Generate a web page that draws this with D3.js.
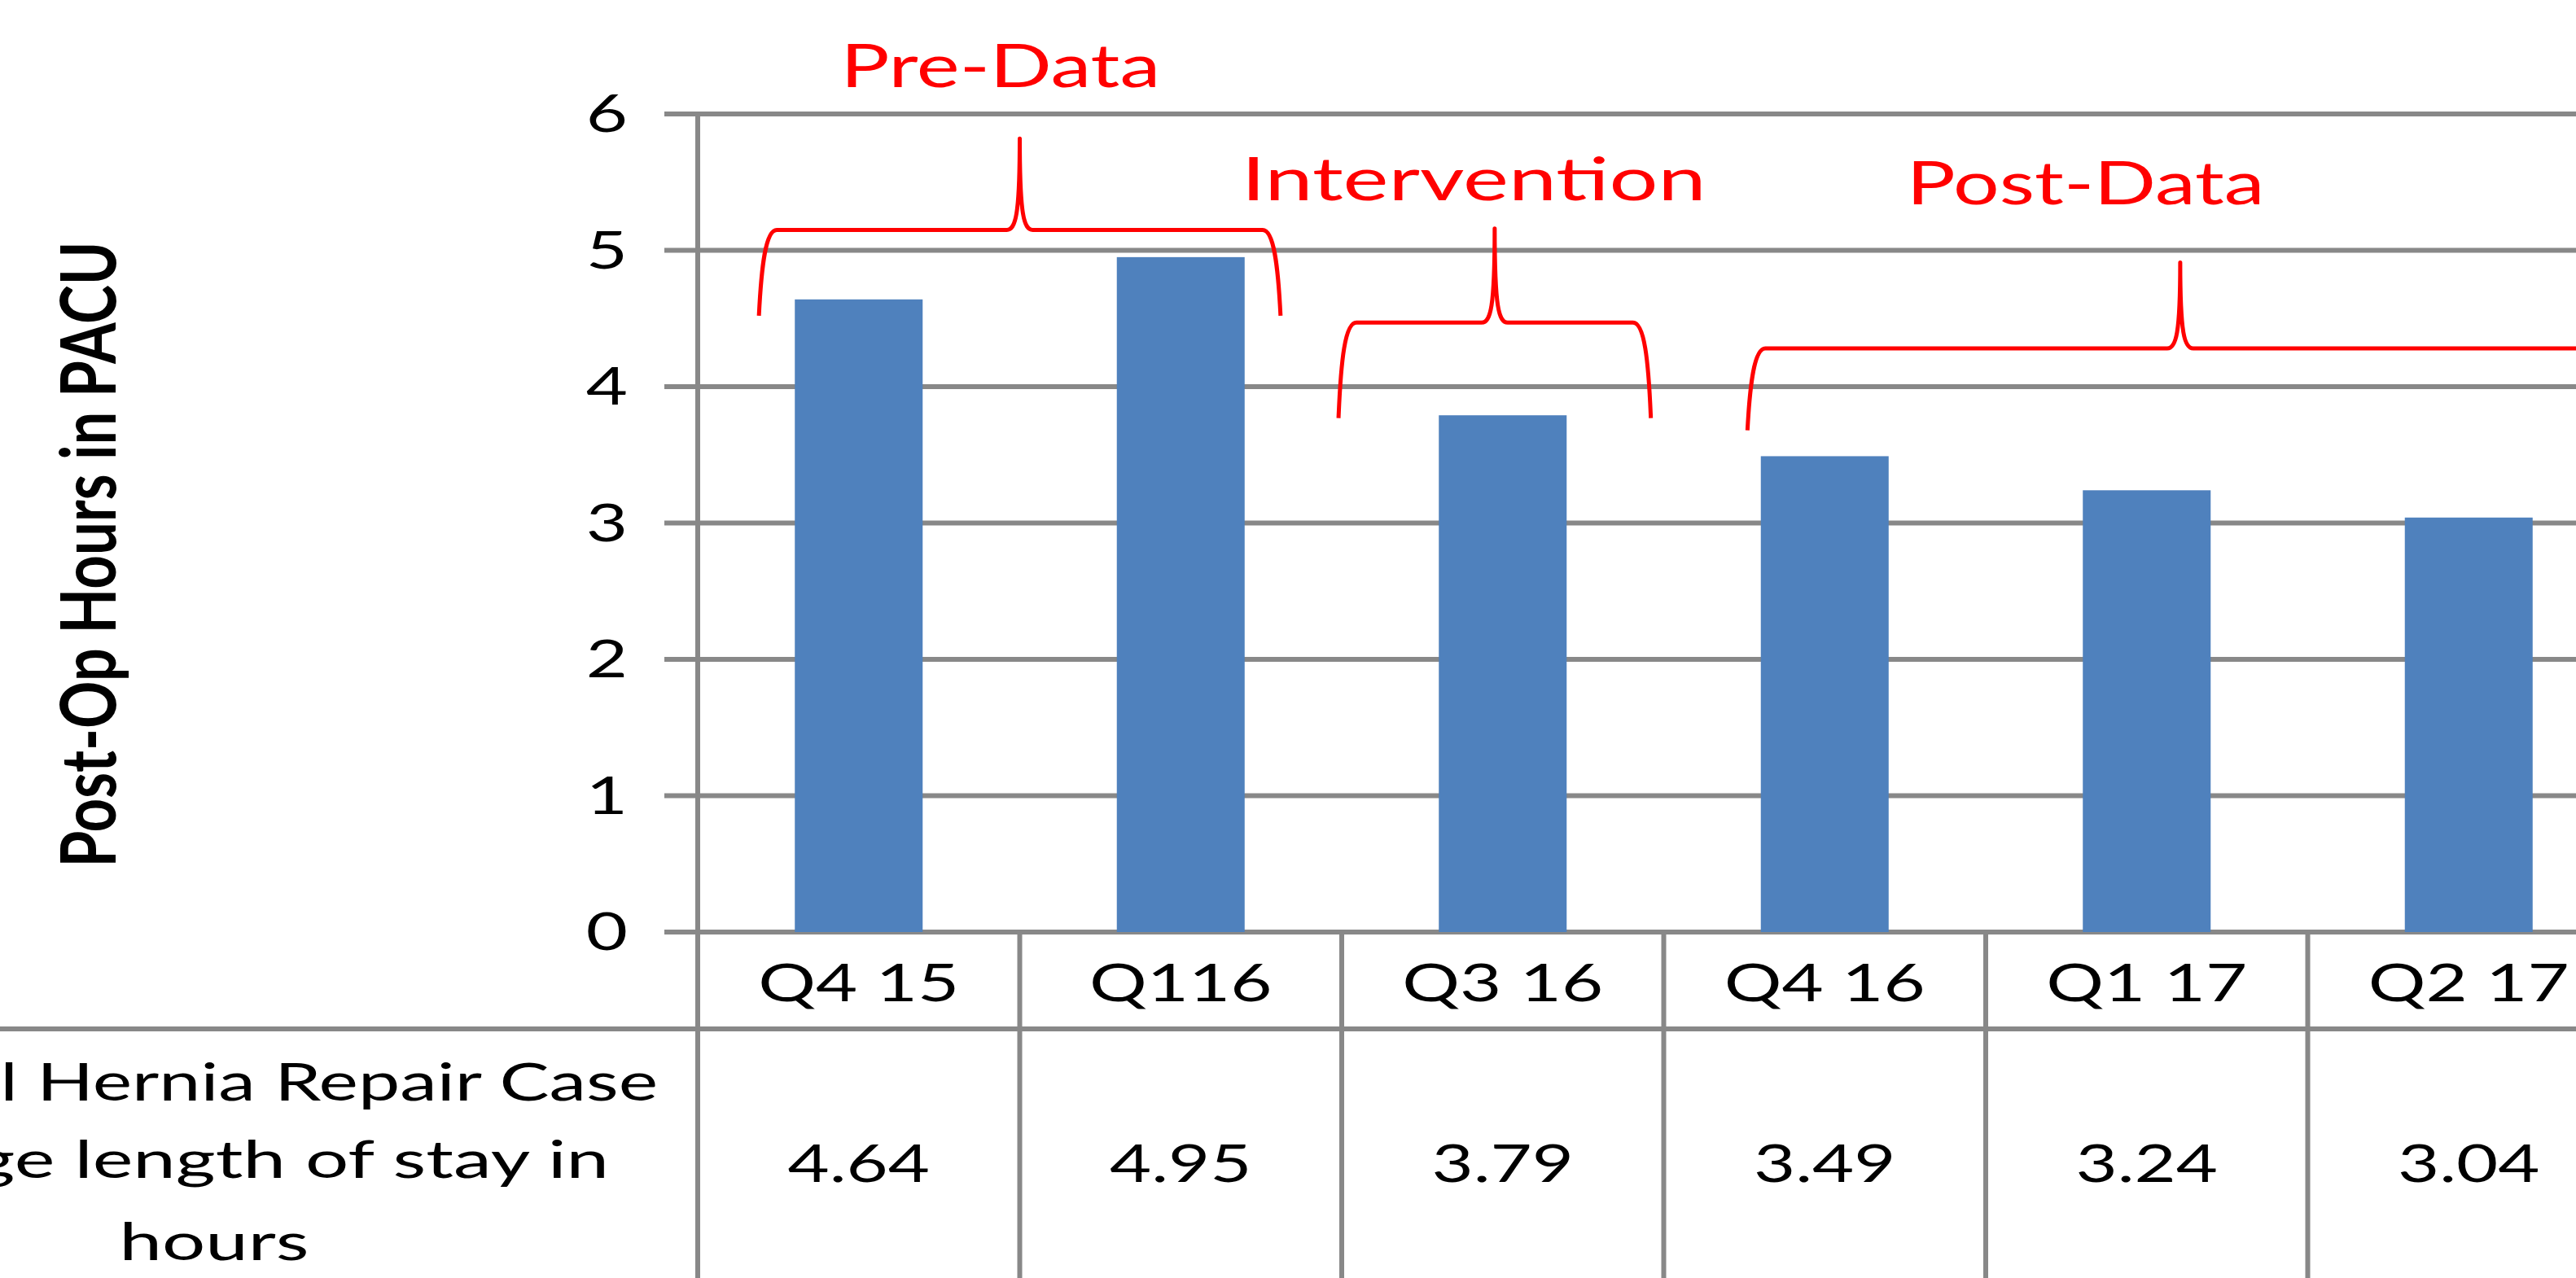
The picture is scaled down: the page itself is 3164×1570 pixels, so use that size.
<!DOCTYPE html>
<html>
<head>
<meta charset="utf-8">
<script src="https://cdn.jsdelivr.net/npm/d3@7"></script>
<style>
  html, body { margin: 0; padding: 0; background: #ffffff; }
  svg { display: block; }
  .grid line { stroke: #888888; stroke-width: 6; }
  .lbl { font-family: Lato, "Open Sans", sans-serif; fill: #000; }
  .phase { font-family: Lato, "Open Sans", sans-serif; fill: #ff0000; }
  .brace { fill: none; stroke: #ff0000; stroke-width: 5; stroke-linejoin: round; }
</style>
</head>
<body>
<div id="chart"></div>
<script>
/* ===== DATA ===== */
const categories = ["Q4 15", "Q116", "Q3 16", "Q4 16", "Q1 17", "Q2 17"];
const losHours = [4.64, 4.95, 3.79, 3.49, 3.24, 3.04];
const yTicks = [0, 1, 2, 3, 4, 5, 6];
const seriesName = ["Inguinal Hernia Repair Case", "Average length of stay in", "hours"];
const yTitle = "Post-Op Hours in PACU";

// phase brackets, in category units (x) and hours (y)
const phaseNames = ["Pre-Data", "Intervention", "Post-Data"];
const phaseFrom = [0.19, 1.99, 3.26];
const phaseTo = [1.81, 2.96, 5.95];
const phaseMid = [1.0, 2.475, 4.604];
const phaseLevel = [5.15, 4.47, 4.28];
const phaseTail = [4.52, 3.77, 3.68];
const phaseTip = [5.82, 5.16, 4.91];
const phaseTextX = [0.94, 2.41, 4.31];
const phaseTextY = [6.2, 5.37, 5.34];

/* ===== LAYOUT ===== */
const W = 3164, H = 1570;
const plotLeft = 857;
const step = 395.5;
const plotRight = plotLeft + step * categories.length;
const plotTop = 140, plotBottom = 1145;
const tableSep = 1264;
const SX = 1.38;          // horizontal stretch of the lettering

const svg = d3.select("#chart").append("svg")
    .attr("width", W)
    .attr("height", H)
    .attr("viewBox", `0 0 ${W} ${H}`);

const x = d3.scaleBand().domain(categories).range([plotLeft, plotRight]);
const xu = d3.scaleLinear().domain([0, categories.length]).range([plotLeft, plotRight]);
const y = d3.scaleLinear().domain([0, 6]).range([plotBottom, plotTop]);

function placeText(sel, px, py, sx) {
    sel.attr("transform", `translate(${px},${py}) scale(${sx},1)`);
}

/* ===== GRID + TABLE LINES ===== */
const grid = svg.append("g").attr("class", "grid");

grid.selectAll(".h")
    .data(yTicks)
    .enter()
    .append("line")
    .attr("x1", plotLeft - 41)
    .attr("x2", plotRight)
    .attr("y1", (d) => y(d))
    .attr("y2", (d) => y(d));

grid.append("line")
    .attr("x1", 0).attr("x2", plotRight)
    .attr("y1", tableSep).attr("y2", tableSep);

grid.selectAll(".v")
    .data(d3.range(categories.length + 1))
    .enter()
    .append("line")
    .attr("x1", (k) => xu(k))
    .attr("x2", (k) => xu(k))
    .attr("y1", (k) => k === 0 ? plotTop : plotBottom)
    .attr("y2", H);

/* ===== BARS ===== */
const barW = x.bandwidth() * 0.397;
svg.append("g")
    .selectAll("rect")
    .data(losHours)
    .enter()
    .append("rect")
    .attr("x", (d, i) => x(categories[i]) + (x.bandwidth() - barW) / 2)
    .attr("y", (d) => y(d))
    .attr("width", barW)
    .attr("height", (d) => y(0) - y(d))
    .attr("fill", "#4f81bd");

/* ===== Y TICK LABELS ===== */
svg.append("g")
    .selectAll("text")
    .data(yTicks)
    .enter()
    .append("text")
    .attr("class", "lbl")
    .attr("font-size", 64)
    .attr("text-anchor", "end")
    .attr("dy", "0.35em")
    .text((d) => d)
    .each(function (d) { placeText(d3.select(this), 771, y(d), SX); });

/* ===== Y TITLE ===== */
svg.append("text")
    .attr("class", "lbl")
    .attr("font-size", 63)
    .attr("font-weight", "bold")
    .attr("text-anchor", "middle")
    .attr("transform", `translate(142,681) rotate(-90) scale(1.15,1.5)`)
    .text(yTitle);

/* ===== TABLE TEXT ===== */
svg.append("g")
    .selectAll("text")
    .data(categories)
    .enter()
    .append("text")
    .attr("class", "lbl")
    .attr("font-size", 64)
    .attr("text-anchor", "middle")
    .text((d) => d)
    .each(function (d) { placeText(d3.select(this), x(d) + x.bandwidth() / 2, 1230, SX); });

const fmt = d3.format(".2f");
svg.append("g")
    .selectAll("text")
    .data(losHours)
    .enter()
    .append("text")
    .attr("class", "lbl")
    .attr("font-size", 64)
    .attr("text-anchor", "middle")
    .text((d) => fmt(d))
    .each(function (d, i) { placeText(d3.select(this), x(categories[i]) + x.bandwidth() / 2, 1452, SX); });

// row header cell is cut by the left edge; lines are laid out by their right ends
const rowBase = [1352, 1447, 1548];
const rowAnchor = ["end", "end", "middle"];
const rowX = [808, 748, 263];
const rowSX = [1.43, 1.47, 1.47];
svg.append("g")
    .selectAll("text")
    .data(seriesName)
    .enter()
    .append("text")
    .attr("class", "lbl")
    .attr("font-size", 64)
    .attr("text-anchor", (d, i) => rowAnchor[i])
    .text((d) => d)
    .each(function (d, i) { placeText(d3.select(this), rowX[i], rowBase[i], rowSX[i]); });

/* ===== PHASE BRACES ===== */
function bracePath(i) {
    const xs = xu(phaseFrom[i]), xe = xu(phaseTo[i]), xm = xu(phaseMid[i]);
    const yl = y(phaseLevel[i]), yt = y(phaseTail[i]), yp = y(phaseTip[i]);
    const p = d3.path();
    p.moveTo(xs, yt);
    p.bezierCurveTo(xs + 3, yl + 45, xs + 8, yl, xs + 22, yl);
    p.lineTo(xm - 16, yl);
    p.bezierCurveTo(xm - 5, yl, xm, yl - 18, xm, yp);
    p.bezierCurveTo(xm, yl - 18, xm + 5, yl, xm + 16, yl);
    p.lineTo(xe - 22, yl);
    p.bezierCurveTo(xe - 8, yl, xe - 3, yl + 45, xe, yt);
    return p.toString();
}

svg.append("g")
    .selectAll("path")
    .data(phaseNames)
    .enter()
    .append("path")
    .attr("class", "brace")
    .attr("d", (d, i) => bracePath(i));

const phaseSX = [1.37, 1.45, 1.37];
svg.append("g")
    .selectAll("text")
    .data(phaseNames)
    .enter()
    .append("text")
    .attr("class", "phase")
    .attr("font-size", 73)
    .attr("text-anchor", "middle")
    .text((d) => d)
    .each(function (d, i) { placeText(d3.select(this), xu(phaseTextX[i]), y(phaseTextY[i]), phaseSX[i]); });
</script>
</body>
</html>
